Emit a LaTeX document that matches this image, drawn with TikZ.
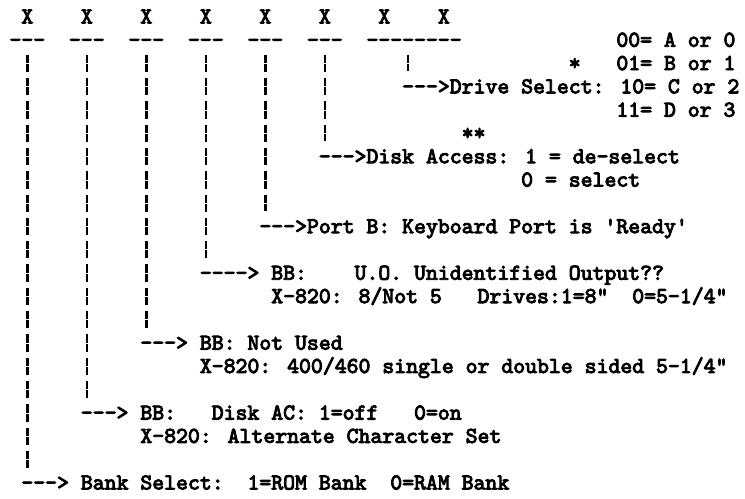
\documentclass[tikz,border=0pt]{standalone}
\usepackage{fontspec}
\usepackage{tikz}
\usetikzlibrary{positioning}

\newfontfamily\oldtype{lmmono10-regular}[Extension=.otf, FakeBold=4]
\newcommand{\halfch}{4.4625pt}

\begin{document}
\begin{tikzpicture}[
x=8.925pt, y=-17.475pt,
txt/.style={anchor=west, inner sep=0pt, text height=10.4pt, text depth=0pt, font=\oldtype\fontsize{17}{17}\selectfont},
bar/.style={line width=1.9pt, dash pattern=on 6.2pt off 0.8pt on 6pt off 4.475pt, shorten <=5.8pt, shorten >=5.8pt}
]
\path[use as bounding box, fill=white] (-0.773,-0.708) rectangle (61.83,20.665);

% the eight bits
\node[txt] (b7) at (1,0) {X};
\node[txt] (b6) at (6,0) {X};
\node[txt] (b5) at (11,0) {X};
\node[txt] (b4) at (16,0) {X};
\node[txt] (b3) at (21,0) {X};
\node[txt] (b2) at (26,0) {X};
\node[txt] (b1) at (31,0) {X};
\node[txt] (b0) at (36,0) {X};
\node[txt] (u7) at (0,1) {---};
\node[txt] (u6) at (5,1) {---};
\node[txt] (u5) at (10,1) {---};
\node[txt] (u4) at (15,1) {---};
\node[txt] (u3) at (20,1) {---};
\node[txt] (u2) at (25,1) {---};
\node[txt] (u10) at (30,1) {--------};

% drive select
\node[txt] (d00) at (51,1) {00= A or 0};
\node[txt] (star) at (47,2) {*};
\node[txt] (d01) at (51,2) {01= B or 1};
\node[txt] (drive) at (33,3) {--->Drive Select: 10= C or 2};
\node[txt] (d11) at (51,4) {11= D or 3};
\coordinate (drivebar) at ([xshift=\halfch]drive.north west);

% the other bits
\node[txt] (stars) at (38,5) {**};
\node[txt] (access) at (26,6) {--->Disk Access: 1 = de-select};
\node[txt] (accessb) at (43,7) {0 = select};
\node[txt] (port) at (21,9) {--->Port B: Keyboard Port is 'Ready'};
\node[txt] (uo) at (16,11) {----> BB:~~~~U.O. Unidentified Output??};
\node[txt] (uob) at (22,12) {X-820: 8/Not 5~~~Drives:1=8"~~0=5-1/4"};
\node[txt] (unused) at (11,14) {---> BB: Not Used};
\node[txt] (unusedb) at (16,15) {X-820: 400/460 single or double sided 5-1/4"};
\node[txt] (charset) at (6,17) {---> BB:~~~Disk AC: 1=off~~~0=on};
\node[txt] (charsetb) at (11,18) {X-820: Alternate Character Set};
\node[txt] (bank) at (1,20) {---> Bank Select:~~1=ROM Bank~~0=RAM Bank};

\draw[bar] (b7 |- u7.south) -- (b7 |- bank.north);
\draw[bar] (b6 |- u6.south) -- (b6 |- charset.north);
\draw[bar] (b5 |- u5.south) -- (b5 |- unused.north);
\draw[bar] (b4 |- u4.south) -- (b4 |- uo.north);
\draw[bar] (b3 |- u3.south) -- (b3 |- port.north);
\draw[bar] (b2 |- u2.south) -- (b2 |- access.north);
\draw[bar] (drivebar |- u10.south) -- (drivebar);
\end{tikzpicture}
\end{document}
